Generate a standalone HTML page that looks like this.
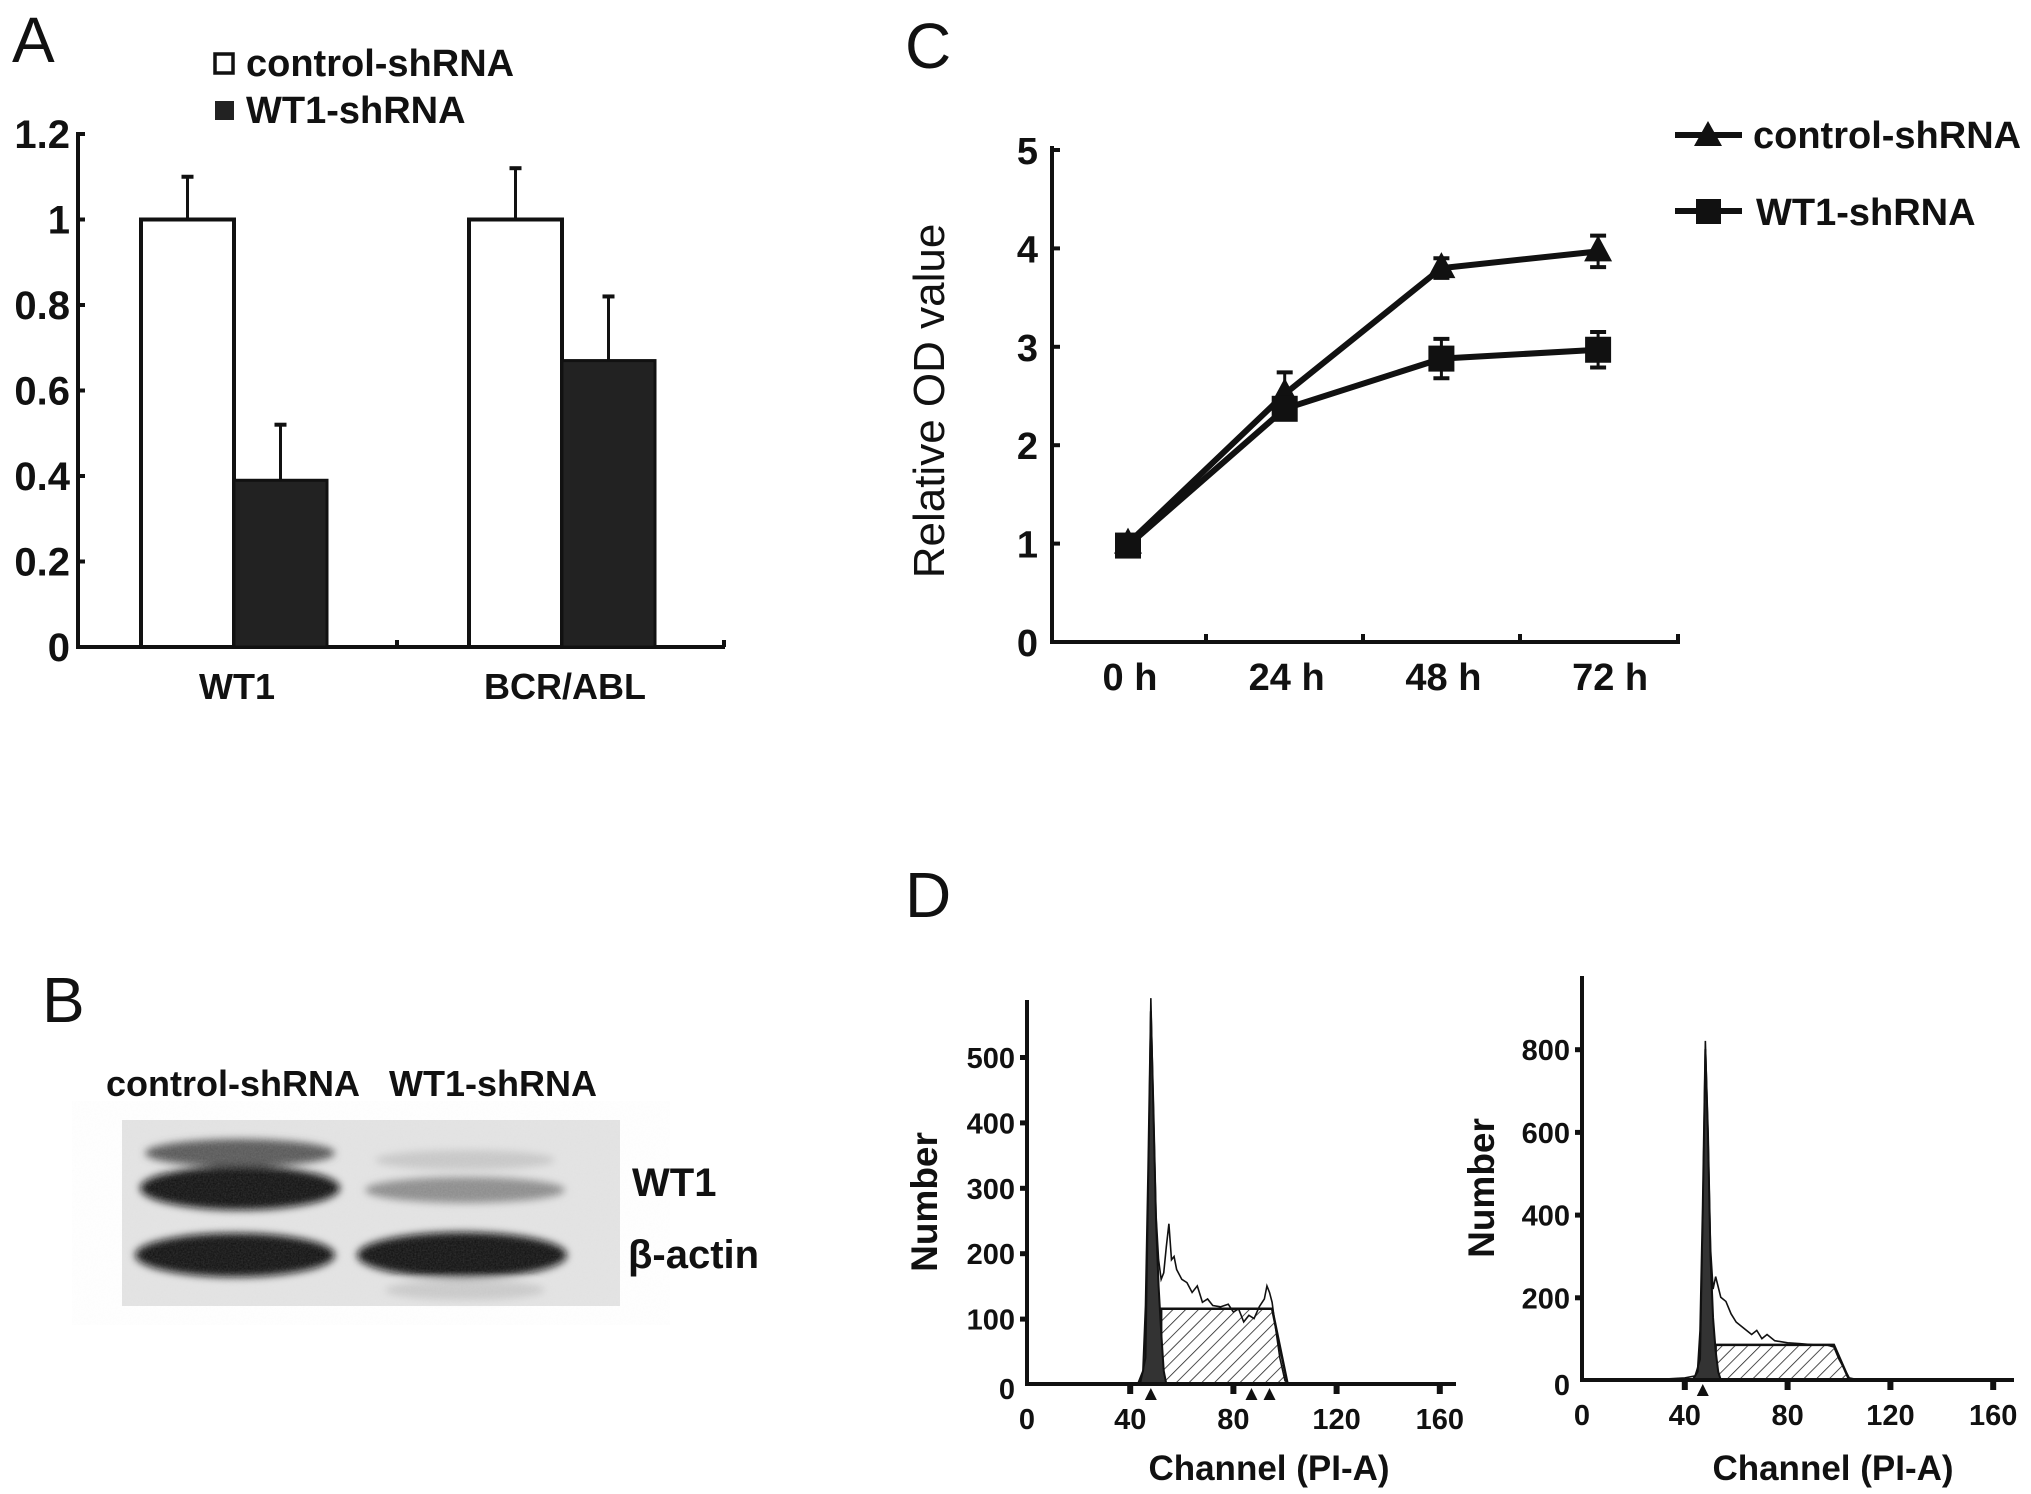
<!DOCTYPE html>
<html><head><meta charset="utf-8"><style>
html,body{margin:0;padding:0;background:#fff;}
svg{display:block;}
text{font-family:"Liberation Sans",Arial,sans-serif;fill:#111;}
.b{font-weight:bold;}
.n{font-family:"Liberation Sans Narrow","Liberation Sans",sans-serif;font-weight:bold;}
</style></head><body>
<svg id="fig" width="2031" height="1494" viewBox="0 0 2031 1494" xmlns="http://www.w3.org/2000/svg">
<defs>
<pattern id="hatch" patternUnits="userSpaceOnUse" width="9" height="9" patternTransform="rotate(45)">
<rect width="9" height="9" fill="#fff"/><line x1="0" y1="0" x2="0" y2="9" stroke="#222" stroke-width="1.6"/>
</pattern>
<filter id="blur3"><feGaussianBlur stdDeviation="4"/></filter>
<filter id="noise"><feTurbulence type="fractalNoise" baseFrequency="0.6" numOctaves="2" result="t"/><feColorMatrix type="matrix" values="0 0 0 0 0.85  0 0 0 0 0.85  0 0 0 0 0.85  0 0 0 0.35 0"/></filter>
</defs>

<!-- Panel A -->
<g id="panelA">
<text x="12" y="62" font-size="64">A</text>
<g>
<rect x="215" y="54" width="18" height="19" fill="#fff" stroke="#111" stroke-width="3.5"/>
<text x="246" y="76" font-size="38" class="b">control-shRNA</text>
<rect x="215" y="101" width="19" height="19" fill="#222"/>
<text x="246" y="123" font-size="38" class="b">WT1-shRNA</text>
</g>
<g id="axA"></g>
<g id="barsA"></g>
</g>

<!-- Panel C -->
<g id="panelC">
<text x="905" y="68" font-size="64">C</text>
<text transform="translate(944,401) rotate(-90)" font-size="44" text-anchor="middle">Relative OD value</text>
<g id="axC"></g>
<g id="linesC"></g>
<g>
<line x1="1675" y1="135" x2="1742" y2="135" stroke="#111" stroke-width="6"/>
<polygon points="1708,121 1722,146 1694,146" fill="#111"/>
<text x="1753" y="148" font-size="38" class="b">control-shRNA</text>
<line x1="1675" y1="211" x2="1742" y2="211" stroke="#111" stroke-width="6"/>
<rect x="1696" y="199" width="25" height="25" fill="#111"/>
<text x="1756" y="225" font-size="38" class="b">WT1-shRNA</text>
</g>
</g>

<!-- Panel B -->
<g id="panelB">
<text x="42" y="1022" font-size="64">B</text>
<text x="106" y="1096" font-size="36" class="b">control-shRNA</text>
<text x="389" y="1096" font-size="36" class="b">WT1-shRNA</text>
<g>
<rect x="122" y="1120" width="498" height="186" fill="#e2e2e2"/>
<g filter="url(#blur3)">
<ellipse cx="240" cy="1153" rx="95" ry="14" fill="#555"/>
<ellipse cx="240" cy="1188" rx="100" ry="22" fill="#0c0c0c"/>
<ellipse cx="465" cy="1190" rx="100" ry="13" fill="#8a8a8a"/>
<ellipse cx="465" cy="1160" rx="90" ry="10" fill="#c6c6c6"/>
<ellipse cx="235" cy="1255" rx="100" ry="22" fill="#0c0c0c"/>
<ellipse cx="462" cy="1255" rx="105" ry="23" fill="#0a0a0a"/>
<ellipse cx="465" cy="1290" rx="80" ry="10" fill="#c8c8c8"/>
</g>
<rect x="122" y="1120" width="498" height="186" filter="url(#noise)" opacity="0.5"/>
</g>
<text x="632" y="1196" font-size="40" class="b">WT1</text>
<text x="628" y="1268" font-size="40" class="b">β-actin</text>
</g>

<!-- Panel D -->
<g id="panelD">
<text x="905" y="917" font-size="64">D</text>
<g id="histL"></g>
<g id="histR"></g>
</g>
</svg>

<script>
// ---------- Panel A data ----------
const catsA = ["WT1", "BCR/ABL"];
const controlA = [1.0, 1.0];
const controlErrA = [0.10, 0.12];
const wt1A = [0.39, 0.67];
const wt1ErrA = [0.13, 0.15];
const ticksA = ["0","0.2","0.4","0.6","0.8","1","1.2"];
const tickValsA = [0,0.2,0.4,0.6,0.8,1.0,1.2];

// ---------- Panel C data ----------
const timesC = ["0 h","24 h","48 h","72 h"];
const controlC = [1.0, 2.52, 3.80, 3.97];
const controlErrC = [0.03, 0.22, 0.10, 0.16];
const wt1C = [0.98, 2.37, 2.88, 2.97];
const wt1ErrC = [0.03, 0.08, 0.20, 0.18];
const ticksC = [0,1,2,3,4,5];

// ---------- Panel D data ----------
const xTicksD = [0,40,80,120,160];
const leftYTicks = [0,100,200,300,400,500];
const rightYTicks = [0,200,400,600,800];
const leftOutlineCh = [40,44,46,47,48,49,50,51,52,53,54,55,56,57,58,60,62,64,66,68,70,72,75,78,80,82,84,86,88,90,92,93,94,95,96,98,100,102,160];
const leftOutlineN = [0,2,40,300,590,420,260,190,160,170,210,245,190,195,175,160,155,140,150,125,130,120,118,122,110,115,95,105,100,118,130,150,140,125,95,40,5,0,0];
const leftG1Ch = [43,45,46,47,48,49,50,51,52,53,54];
const leftG1N = [0,20,120,330,570,420,250,150,80,20,0];
const leftS = [52,101,115];   // start ch, end ch, height
const leftMarkers = [48,87,94];
const rightOutlineCh = [25,40,44,46,47,48,49,50,51,52,54,56,58,60,62,64,66,68,70,72,75,80,85,90,95,98,100,104,108,160];
const rightOutlineN = [0,5,10,50,400,820,600,320,220,250,200,190,160,140,130,120,110,120,100,110,95,90,88,85,85,80,50,5,0,0];
const rightG1Ch = [43,45,46,47,48,49,50,51,52,53,54];
const rightG1N = [0,20,120,420,800,600,300,150,70,20,0];
const rightS = [52,104,85];
const rightMarkers = [47];

const NS = "http://www.w3.org/2000/svg";
function mk(tag, attrs, parent){ const e=document.createElementNS(NS,tag); for(const k in attrs) e.setAttribute(k,attrs[k]); parent.appendChild(e); return e; }

// ===== Panel A =====
(function(){
  const ax = document.getElementById('axA'), bars = document.getElementById('barsA');
  const x0=78, y0=647, yTop=134, xEnd=725;
  const y = v => y0 - (v/1.2)*(y0-yTop);
  const groupLeft = [141, 469], bw = 93;
  let l = mk('line',{x1:x0,y1:yTop-2,x2:x0,y2:y0+2,stroke:'#111','stroke-width':4},ax);
   
  l = mk('line',{x1:x0-2,y1:y0,x2:xEnd,y2:y0,stroke:'#111','stroke-width':4},ax);
   
  mk('line',{x1:397,y1:y0,x2:397,y2:y0-7,stroke:'#111','stroke-width':4},ax);
  mk('line',{x1:xEnd-1,y1:y0,x2:xEnd-1,y2:y0-7,stroke:'#111','stroke-width':4},ax);
  tickValsA.forEach((v,i)=>{
    mk('line',{x1:x0,y1:y(v),x2:x0+7,y2:y(v),stroke:'#111','stroke-width':4},ax);
    const t = mk('text',{x:x0-8,y:y(v)+14,'font-size':40,'text-anchor':'end','class':'b'},ax);
    t.textContent = ticksA[i];
     
  });
  catsA.forEach((c,i)=>{
    const gx = groupLeft[i];
    [[controlA[i],controlErrA[i],gx],[wt1A[i],wt1ErrA[i],gx+bw]].forEach(([v,e,bx])=>{
      const cx=bx+bw/2;
      mk('line',{x1:cx,y1:y(v),x2:cx,y2:y(v+e),stroke:'#111','stroke-width':3},bars);
      mk('line',{x1:cx-6,y1:y(v+e),x2:cx+6,y2:y(v+e),stroke:'#111','stroke-width':4},bars);
    });
    const r1 = mk('rect',{x:gx,y:y(controlA[i]),width:bw,height:y0-y(controlA[i]),fill:'#fff',stroke:'#111','stroke-width':4},bars);
     
    const r2 = mk('rect',{x:gx+bw,y:y(wt1A[i]),width:bw,height:y0-y(wt1A[i]),fill:'#222',stroke:'#111','stroke-width':3},bars);
     
    const t = mk('text',{x:gx+bw+3,y:699,'font-size':36,'text-anchor':'middle','class':'b'},ax);
    t.textContent = c;
     
  });
})();

// ===== Panel C =====
(function(){
  const ax=document.getElementById('axC'), g=document.getElementById('linesC');
  const x0=1052, y0=642, yTop=150, xEnd=1680;
  const y = v => y0 - (v/5)*(y0-yTop);
  const xp = i => 1128 + i*156.7;
  let l=mk('line',{x1:x0,y1:yTop-4,x2:x0,y2:y0+2,stroke:'#111','stroke-width':4},ax);
   
  l=mk('line',{x1:x0-2,y1:y0,x2:xEnd,y2:y0,stroke:'#111','stroke-width':4},ax);
   
  [1206,1363,1520,1678].forEach(tx=>mk('line',{x1:tx,y1:y0,x2:tx,y2:y0-8,stroke:'#111','stroke-width':4},ax));
  ticksC.forEach(v=>{
    mk('line',{x1:x0,y1:y(v),x2:x0+8,y2:y(v),stroke:'#111','stroke-width':4},ax);
    const t=mk('text',{x:x0-14,y:y(v)+14,'font-size':38,'text-anchor':'end','class':'n'},ax);
    t.textContent=v;
     
  });
  timesC.forEach((s,i)=>{
    const t=mk('text',{x:xp(i)+2+(i===3?10:0),y:690,'font-size':38,'text-anchor':'middle','class':'n'},ax);
    t.textContent=s;
     
  });
  function series(vals, errs, name, marker){
    const pts = vals.map((v,i)=>xp(i)+','+y(v)).join(' ');
    const pl = mk('polyline',{points:pts,fill:'none',stroke:'#111','stroke-width':6},g);
     
    vals.forEach((v,i)=>{
      const cx=xp(i), cy=y(v), e=errs[i];
      mk('line',{x1:cx,y1:y(v+e),x2:cx,y2:y(v-e),stroke:'#111','stroke-width':3},g);
      mk('line',{x1:cx-8,y1:y(v+e),x2:cx+8,y2:y(v+e),stroke:'#111','stroke-width':4},g);
      mk('line',{x1:cx-8,y1:y(v-e),x2:cx+8,y2:y(v-e),stroke:'#111','stroke-width':4},g);
      let m;
      if(marker==='tri') m=mk('polygon',{points:`${cx},${cy-16} ${cx+14},${cy+10} ${cx-14},${cy+10}`,fill:'#111'},g);
      else m=mk('rect',{x:cx-13,y:cy-13,width:26,height:26,fill:'#111'},g);
       
    });
  }
  series(controlC, controlErrC, 'control', 'tri');
  series(wt1C, wt1ErrC, 'wt1', 'sq');
})();

// ===== Panel D =====
function hist(gid, o){
  const g=document.getElementById(gid);
  const xs = ch => o.x0 + ch*o.kx;
  const ys = n => o.y0 - n*o.ky;
  const s = o.S;
  let p = mk('polygon',{points:`${xs(s[0])},${o.y0} ${xs(s[0])},${ys(s[2])} ${xs(s[1]-6)},${ys(s[2])} ${xs(s[1])},${o.y0}`,fill:'url(#hatch)',stroke:'#111','stroke-width':2.5},g);
   
  const gp = o.g1ch.map((c,i)=>xs(c)+','+ys(o.g1n[i])).join(' ');
  p=mk('polygon',{points:gp,fill:'#333',stroke:'#111','stroke-width':2},g);
   
  const op = o.och.map((c,i)=>xs(c)+','+ys(o.on[i])).join(' ');
  p=mk('polyline',{points:op,fill:'none',stroke:'#111','stroke-width':1.6},g);
   
  let l=mk('line',{x1:o.x0,y1:o.top,x2:o.x0,y2:o.y0+2,stroke:'#111','stroke-width':4},g);
   
  l=mk('line',{x1:o.x0,y1:o.y0,x2:o.xEnd,y2:o.y0,stroke:'#111','stroke-width':4},g);
   
  o.yt.forEach(v=>{
    if(v>0) mk('rect',{x:o.x0-7,y:ys(v)-2,width:5,height:5,fill:'#111'},g);
    const t=mk('text',{x:o.x0-12,y:ys(v)+11+(v===0?4:0),'font-size':29,'text-anchor':'end','class':'n'},g);
    t.textContent=v;
     
  });
  xTicksD.forEach(v=>{
    if(v>0) mk('rect',{x:xs(v)-3,y:o.y0,width:6,height:10,fill:'#111'},g);
    const t=mk('text',{x:xs(v),y:o.y0+45,'font-size':29,'text-anchor':'middle','class':'n'},g);
    t.textContent=v;
     
  });
  o.mk.forEach(c=>{
    const m=mk('polygon',{points:`${xs(c)},${o.y0+4} ${xs(c)+6},${o.y0+16} ${xs(c)-6},${o.y0+16}`,fill:'#111'},g);
     
  });
  let t=mk('text',{transform:`translate(${o.nx},${(o.top+o.y0)/2+10}) rotate(-90)`,'font-size':37,'text-anchor':'middle','class':'b'},g);
  t.textContent='Number';
   
  t=mk('text',{x:o.cx,y:1480,'font-size':35,'text-anchor':'middle','class':'n'},g);
  t.textContent='Channel (PI-A)';
   
}
hist('histL',{x0:1027,y0:1384,top:1000,xEnd:1456,kx:2.58,ky:0.654,S:leftS,g1ch:leftG1Ch,g1n:leftG1N,och:leftOutlineCh,on:leftOutlineN,yt:leftYTicks,mk:leftMarkers,nx:937,cx:1269});
hist('histR',{x0:1582,y0:1380,top:976,xEnd:2014,kx:2.57,ky:0.4135,S:rightS,g1ch:rightG1Ch,g1n:rightG1N,och:rightOutlineCh,on:rightOutlineN,yt:rightYTicks,mk:rightMarkers,nx:1494,cx:1833});
</script>
</body></html>
